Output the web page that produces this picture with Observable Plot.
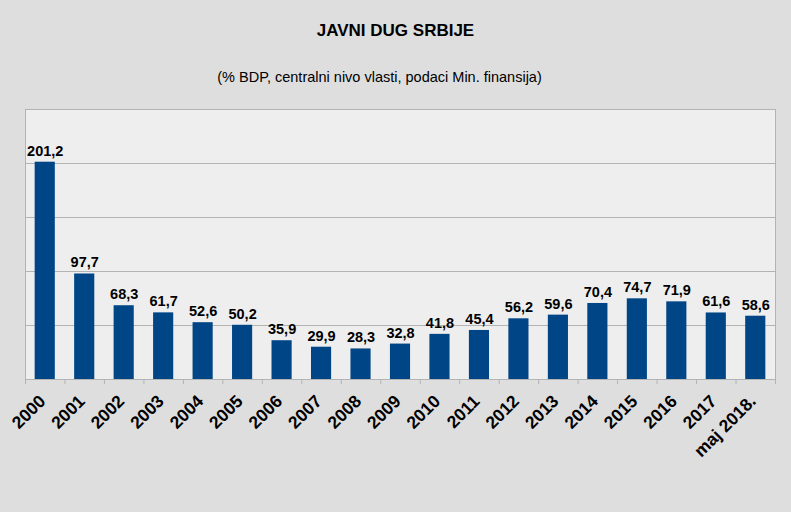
<!DOCTYPE html>
<html>
<head>
<meta charset="utf-8">
<script src="https://cdn.jsdelivr.net/npm/d3@7"></script>
<script src="https://cdn.jsdelivr.net/npm/@observablehq/plot@0.6"></script>
<style>
  html, body { margin: 0; padding: 0; background: #dedede; }
  body { width: 791px; height: 512px; overflow: hidden; font-family: "Liberation Sans", Arial, sans-serif; }
  #head { position: relative; height: 100px; }
  #title { position: absolute; left: 0; width: 791px; top: 22px; text-align: center; font-weight: bold; font-size: 17px; line-height: 17px; color: #000; }
  #subtitle { position: absolute; left: 0; width: 759px; top: 70px; text-align: center; font-size: 14.5px; line-height: 14.5px; color: #000; }
  #chart svg { display: block; }
</style>
</head>
<body>
<div id="head">
  <div id="title">JAVNI DUG SRBIJE</div>
  <div id="subtitle">(% BDP, centralni nivo vlasti, podaci Min. finansija)</div>
</div>
<div id="chart"></div>
<script>
const categories = ["2000","2001","2002","2003","2004","2005","2006","2007","2008","2009","2010","2011","2012","2013","2014","2015","2016","2017","maj 2018."];
const debt = [201.2, 97.7, 68.3, 61.7, 52.6, 50.2, 35.9, 29.9, 28.3, 32.8, 41.8, 45.4, 56.2, 59.6, 70.4, 74.7, 71.9, 61.6, 58.6];
const gridValues = [50, 100, 150, 200];

const data = categories.map((c, i) => ({cat: c, value: debt[i]}));
const fmt = v => d3.format(".1f")(v).replace(".", ",");

const W = 791, H = 412;
const mL = 25, mR = 16, mT = 9, mB = 133;
const step = (W - mL - mR) / categories.length;

const chart = Plot.plot({
  width: W,
  height: H,
  marginLeft: mL,
  marginRight: mR,
  marginTop: mT,
  marginBottom: mB,
  style: {background: "transparent", fontFamily: "Liberation Sans, Arial, sans-serif", overflow: "visible"},
  x: {type: "band", domain: categories, paddingInner: 0.49, paddingOuter: 0.245, round: false, axis: null},
  y: {domain: [0, 250], axis: null},
  marks: [
    Plot.frame({fill: "#eeeeee", stroke: null}),
    Plot.gridY(gridValues, {stroke: "#b3b3b3", strokeOpacity: 1, strokeWidth: 1}),
    Plot.frame({stroke: "#b3b3b3", strokeWidth: 1}),
    Plot.ruleX(categories, {x: d => d, y1: () => 0, y2: () => 0, insetBottom: -5, dx: -step / 2, stroke: "#b3b3b3"}),
    Plot.ruleX(categories.slice(-1), {x: d => d, y1: () => 0, y2: () => 0, insetBottom: -5, dx: step / 2, stroke: "#b3b3b3"}),
    Plot.barY(data, {x: "cat", y: "value", fill: "#004586"}),
    Plot.text(data, {x: "cat", y: "value", text: d => fmt(d.value), dy: -6.5, lineAnchor: "bottom", fontSize: 14.5, fontWeight: "bold", fill: "#000"}),
    Plot.text(data, {x: "cat", y: () => 0, text: "cat", rotate: -45, textAnchor: "end", lineAnchor: "top", dx: -7.5, dy: 14, fontSize: 17.5, fontWeight: "bold", fill: "#000"})
  ]
});
document.getElementById("chart").appendChild(chart);
</script>
</body>
</html>
